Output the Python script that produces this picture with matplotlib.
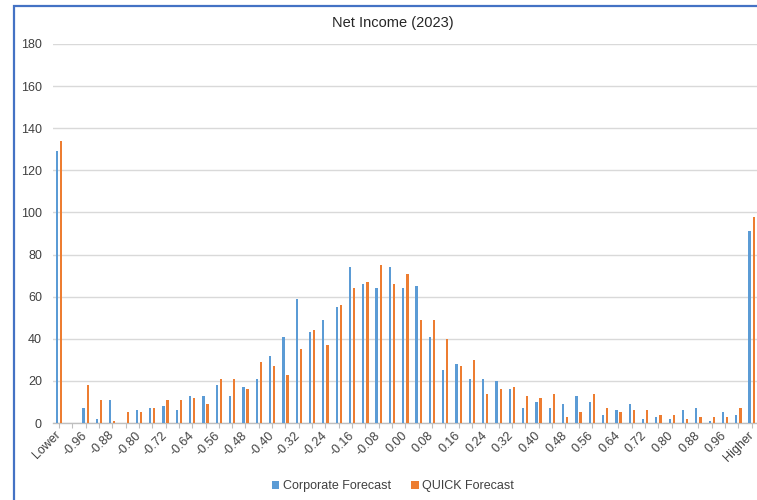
import matplotlib
matplotlib.use("Agg")
import matplotlib.pyplot as plt
import numpy as np
from matplotlib.patches import Rectangle

plt.rcParams["font.family"] = ["Liberation Sans", "DejaVu Sans"]

# bins: Lower, -1.00 .. 1.00 step 0.04, Higher
bin_labels = (["Lower"] + ["%.2f" % (-1.0 + 0.04 * i) for i in range(51)] + ["Higher"])
bin_labels = [s.replace("-0.00", "0.00") for s in bin_labels]

corporate = [129, 0, 7, 2, 11, 0, 6, 7, 8, 6, 13, 13, 18, 13, 17, 21, 32, 41, 59, 43,
             49, 55, 74, 66, 64, 74, 64, 65, 41, 25, 28, 21, 21, 20, 16, 7, 10, 7, 9,
             13, 10, 4, 6, 9, 2, 3, 2, 6, 7, 1, 5, 4, 91]
quick = [134, 0, 18, 11, 1, 5, 5, 7, 11, 11, 12, 9, 21, 21, 16, 29, 27, 23, 35, 44,
         37, 56, 64, 67, 75, 66, 71, 49, 49, 40, 27, 30, 14, 16, 17, 13, 12, 14, 3,
         5, 14, 7, 5, 6, 6, 4, 4, 2, 3, 3, 3, 7, 98]

series_names = ["Corporate Forecast", "QUICK Forecast"]
colors = ["#5B9BD5", "#ED7D31"]

fig = plt.figure(figsize=(7.57, 5.0), dpi=100)
ax = fig.add_axes([53 / 757, 77 / 500, 704 / 757, 379 / 500])

x = np.arange(len(bin_labels))
w = 0.17
ax.bar(x - 0.155, corporate, w, color=colors[0], label=series_names[0], zorder=3)
ax.bar(x + 0.155, quick, w, color=colors[1], label=series_names[1], zorder=3)

ax.set_xlim(-0.45, 52.4)
ax.set_ylim(0, 180)
ax.set_yticks(range(0, 181, 20))
ax.yaxis.grid(True, color="#D9D9D9", linewidth=1.0, zorder=0)
ax.set_axisbelow(True)
for s in ["left", "right", "top"]:
    ax.spines[s].set_visible(False)
ax.spines["bottom"].set_color("#BFBFBF")
ax.spines["bottom"].set_linewidth(1.0)
ax.tick_params(axis="y", length=0, pad=8, labelsize=9, labelcolor="#404040")

ax.set_xticks(x)
ax.set_xticklabels([lab if i % 2 == 0 else "" for i, lab in enumerate(bin_labels)],
                   rotation=45, ha="right", va="center", rotation_mode="anchor")
ax.tick_params(axis="x", length=3.5, color="#BFBFBF", labelsize=9,
               labelcolor="#404040", pad=4)

fig.text(393 / 757, 1 - 23 / 500, "Net Income (2023)", ha="center", va="center",
         fontsize=10.5, color="#262626")

fig.legend(loc="center", bbox_to_anchor=(393 / 757, 1 - 486 / 500), ncol=2,
           frameon=False, fontsize=9, handlelength=0.6, handleheight=0.6,
           handletextpad=0.3, columnspacing=1.6, labelcolor="#404040")

# outer chart frame (cropped screenshot look)
fig.patches.append(Rectangle((13.5 / 757, -0.1), 1.2, 1 - 5.5 / 500 + 0.1,
                             transform=fig.transFigure, fill=False,
                             edgecolor="#4472C4", linewidth=1.6))

fig.savefig("out.png", dpi=100)
